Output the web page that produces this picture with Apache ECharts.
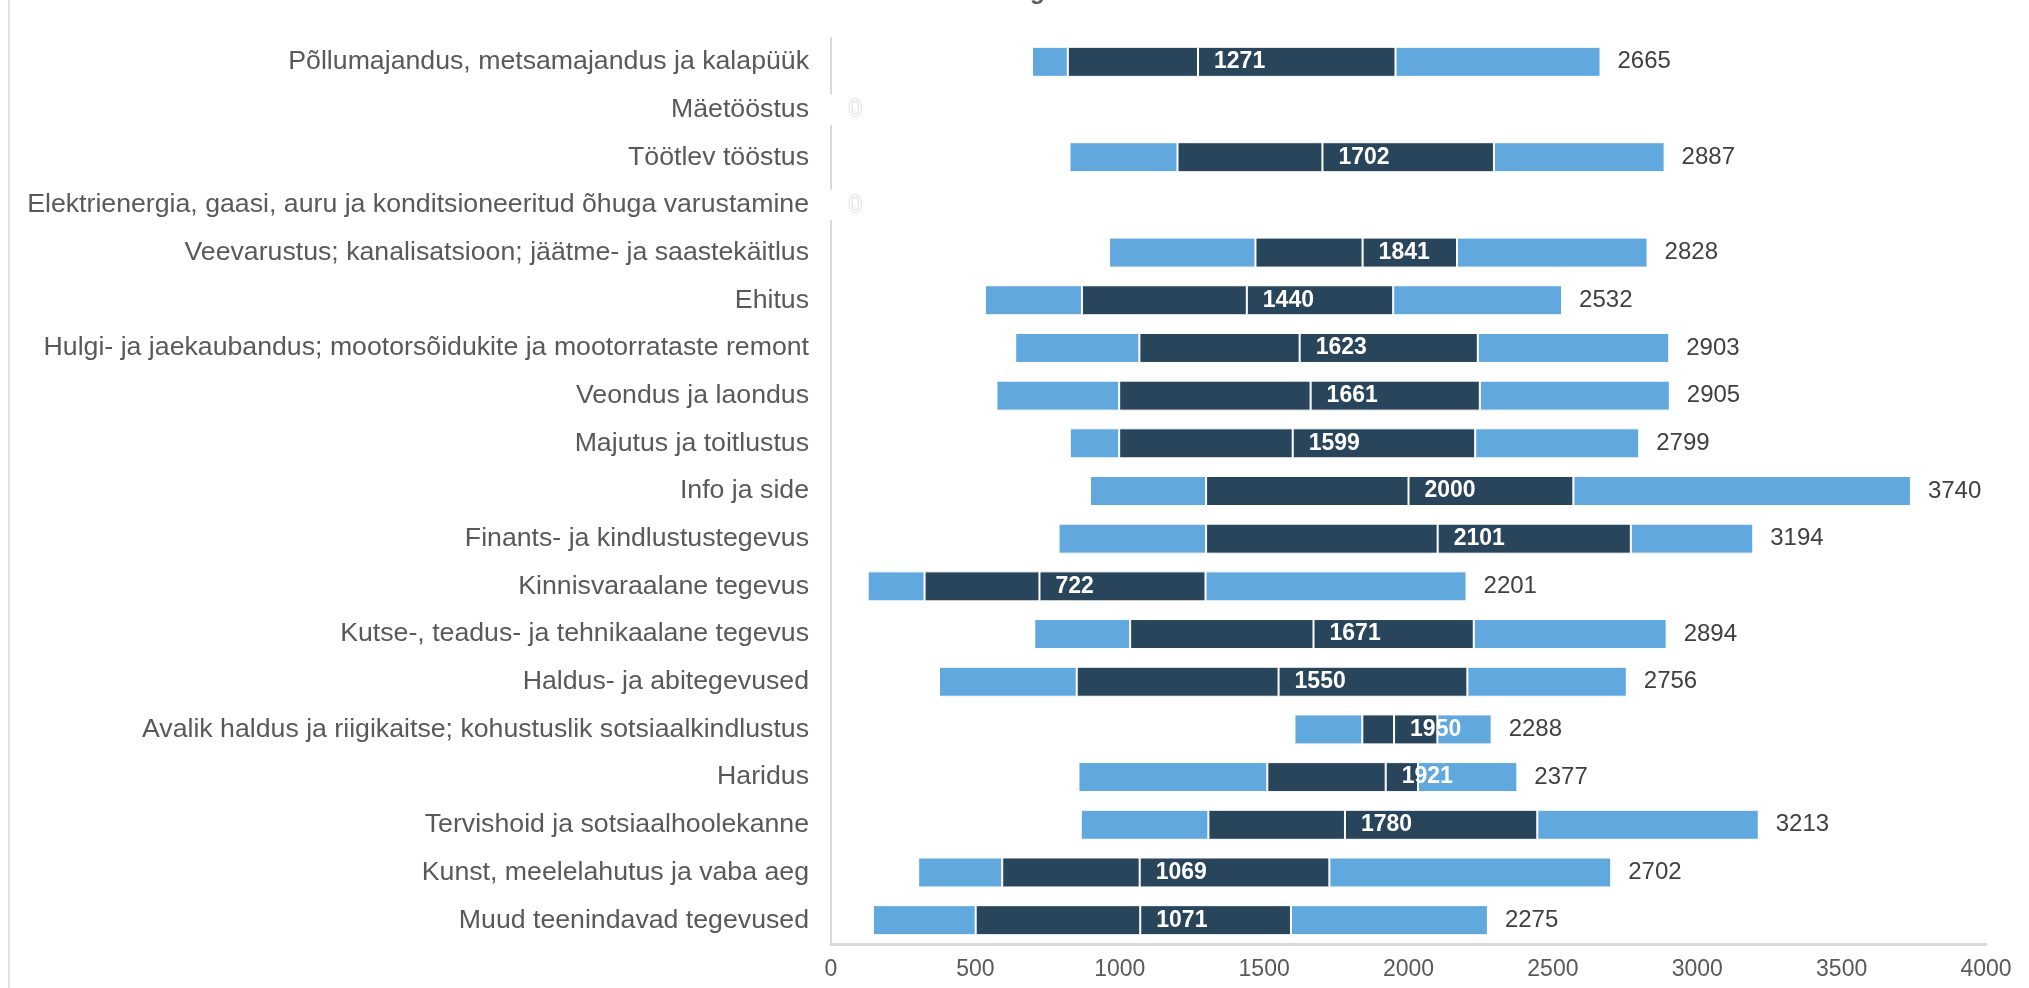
<!DOCTYPE html>
<html>
<head>
<meta charset="utf-8">
<script src="https://cdn.jsdelivr.net/npm/echarts@6/dist/echarts.min.js"></script>
<style>
html,body{margin:0;padding:0;background:#fff;}
#chart{width:2029px;height:988px;}
</style>
</head>
<body>
<div id="chart"></div>
<script>
const categories = [
  "Põllumajandus, metsamajandus ja kalapüük",
  "Mäetööstus",
  "Töötlev tööstus",
  "Elektrienergia, gaasi, auru ja konditsioneeritud õhuga varustamine",
  "Veevarustus; kanalisatsioon; jäätme- ja saastekäitlus",
  "Ehitus",
  "Hulgi- ja jaekaubandus; mootorsõidukite ja mootorrataste remont",
  "Veondus ja laondus",
  "Majutus ja toitlustus",
  "Info ja side",
  "Finants- ja kindlustustegevus",
  "Kinnisvaraalane tegevus",
  "Kutse-, teadus- ja tehnikaalane tegevus",
  "Haldus- ja abitegevused",
  "Avalik haldus ja riigikaitse; kohustuslik sotsiaalkindlustus",
  "Haridus",
  "Tervishoid ja sotsiaalhoolekanne",
  "Kunst, meelelahutus ja vaba aeg",
  "Muud teenindavad tegevused"
];
const p10    = [696, 0, 826, 0, 963, 533, 638, 573, 827, 897, 788, 127, 704, 374, 1605, 857, 865, 302, 145];
const q1     = [820, 0, 1200, 0, 1470, 869, 1068, 998, 998, 1299, 1299, 324, 1036, 851, 1840, 1511, 1307, 593, 501];
const median = [1271, 0, 1702, 0, 1841, 1440, 1623, 1661, 1599, 2000, 2101, 722, 1671, 1550, 1950, 1921, 1780, 1069, 1071];
const q3     = [1955, 0, 2296, 0, 2168, 1947, 2240, 2247, 2231, 2571, 2770, 1297, 2226, 2204, 2100, 2033, 2446, 1726, 1593];
const p90    = [2665, 0, 2887, 0, 2828, 2532, 2903, 2905, 2799, 3740, 3194, 2201, 2894, 2756, 2288, 2377, 3213, 2702, 2275];
const xTicks = [0, 500, 1000, 1500, 2000, 2500, 3000, 3500, 4000];

const LIGHT = '#61a8df';
const DARK = '#28455b';
const FONT = "'Liberation Sans', Arial, sans-serif";

const seg = (a, b) => a.map((v, i) => b[i] - v);
const barStyle = (c) => ({ color: c, borderColor: '#ffffff', borderWidth: 1 });

const chart = echarts.init(document.getElementById('chart'));
chart.setOption({
  animation: false,
  backgroundColor: '#ffffff',
  grid: { left: 831, right: 43, top: 38, bottom: 44, containLabel: false },
  graphic: [
    { type: 'rect', shape: { x: 8, y: 0, width: 2, height: 988 }, style: { fill: '#e2e2e2' }, silent: true },
    { type: 'text', left: 1030, top: -20, style: { text: 'g', font: "bold 24px " + FONT, fill: '#595959' }, silent: true }
  ],
  xAxis: {
    type: 'value', min: 0, max: 4000, interval: 500,
    axisLine: { show: true, lineStyle: { color: '#d9d9d9', width: 3 } },
    axisTick: { show: false },
    splitLine: { show: false },
    axisLabel: { color: '#595959', fontSize: 23, fontFamily: FONT, margin: 14,
      formatter: (v) => xTicks.includes(v) ? String(v) : '' }
  },
  yAxis: {
    type: 'category', data: categories, inverse: true,
    axisLine: { show: true, lineStyle: { color: '#d9d9d9', width: 2 } },
    axisTick: { show: false },
    axisLabel: { color: '#595959', fontSize: 26.7, fontFamily: FONT, margin: 22 }
  },
  series: [
    { type: 'bar', stack: 's', barWidth: 30, silent: true,
      itemStyle: { color: 'transparent' }, data: p10 },
    { type: 'bar', stack: 's', barWidth: 30, itemStyle: barStyle(LIGHT), data: seg(p10, q1) },
    { type: 'bar', stack: 's', barWidth: 30, itemStyle: barStyle(DARK), data: seg(q1, median) },
    { type: 'bar', stack: 's', barWidth: 30, itemStyle: barStyle(DARK), data: seg(median, q3),
      label: { show: true, position: 'insideLeft', distance: 16, color: '#ffffff', fontWeight: 'bold',
        fontSize: 23, fontFamily: FONT,
        formatter: (p) => p90[p.dataIndex] === 0 ? '' : String(median[p.dataIndex]) } },
    { type: 'bar', stack: 's', barWidth: 30, itemStyle: barStyle(LIGHT),
      data: seg(q3, p90).map((v, i) => p90[i] === 0 ? {
        value: v,
        label: { color: '#ffffff', textBorderColor: '#d6d6d6', textBorderWidth: 1.5 }
      } : v),
      label: { show: true, position: 'right', distance: 17, color: '#404040',
        fontSize: 24, fontFamily: FONT,
        formatter: (p) => String(p90[p.dataIndex]) } }
  ]
});
</script>
</body>
</html>
